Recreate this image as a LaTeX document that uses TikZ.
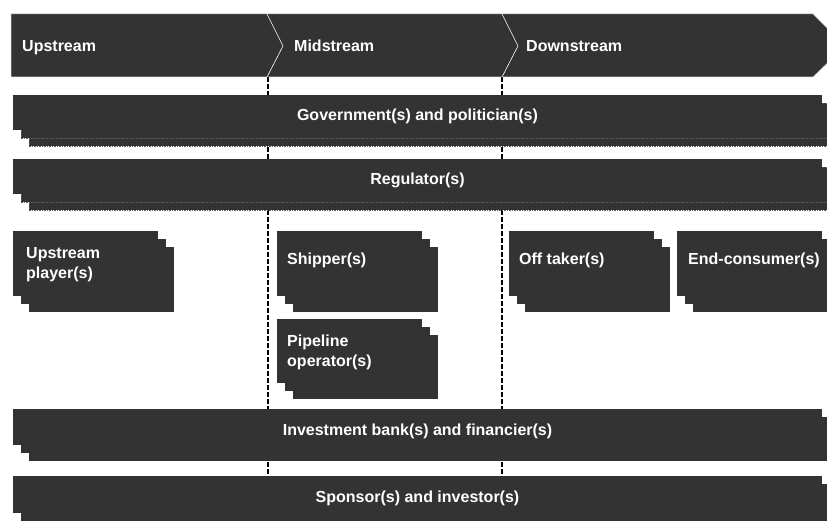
\documentclass[tikz,border=0pt]{standalone}
\usepackage{fontspec}
\setmainfont{Liberation Sans}
\definecolor{panelgrey}{HTML}{333333}
\definecolor{seamgrey}{HTML}{5E5E5E}
\definecolor{rimgrey}{HTML}{C8C8C8}

% A panel with two sheets stacked behind it, each shifted 8 units right and down.
% #1 name, #2 x, #3 y, #4 width, #5 height, #6 style of the rear sheets
\newcommand\stackpanel[6]{%
  \path[panel,#6] ({#2+16},{#3+16}) rectangle ++(#4,#5);
  \path[panel,#6] ({#2+8},{#3+8}) rectangle ++(#4,#5);
  \node[panel, anchor=north west, minimum width=#4, minimum height=#5,
        inner sep=0pt, outer sep=0pt] (#1) at (#2,#3) {};
}

\begin{document}
\begin{tikzpicture}[x=1pt, y=-1pt,
    panel/.style={fill=panelgrey},
    seam/.style={draw=seamgrey, line width=0.3pt, dash pattern=on 1.5pt off 1pt},
    plain/.style={},
    lbl/.style={text=white, font=\fontsize{16}{20}\selectfont\bfseries, inner sep=0pt},
    barlabel/.style={lbl, anchor=center, yshift=-4pt},
    boxlabel/.style={lbl, anchor=west, align=left, yshift=3pt},
    twolinelabel/.style={lbl, anchor=west, align=left, yshift=-1pt},
    phaselabel/.style={lbl, anchor=base west},
    divider/.style={line width=1.5pt, dash pattern=on 5pt off 2pt}]

  \useasboundingbox (0,0) rectangle (827,521);
  \clip (0,0) rectangle (827,521);

  % stage dividers
  \coordinate (div1top) at (268,77);
  \coordinate (div1bot) at (268,476);
  \coordinate (div2top) at (502,77);
  \coordinate (div2bot) at (502,476);
  \draw[divider] (div1top) -- (div1bot);
  \draw[divider] (div2top) -- (div2bot);

  % value-chain arrow
  \filldraw[fill=panelgrey, draw=rimgrey, line width=0.5pt]
    (11,14) -- (813,14) -- (845,46) -- (813,77) -- (11,77) -- cycle;
  \draw[white, line width=0.6pt] (267,14) -- (283,46) -- (267,77);
  \draw[white, line width=0.6pt] (502,14) -- (518,46) -- (502,77);
  \node[phaselabel] (up)   at (22,51.5)  {Upstream};
  \node[phaselabel] (mid)  at (294,51.5) {Midstream};
  \node[phaselabel] (down) at (526,51.5) {Downstream};

  % full-width stakeholder bars
  \stackpanel{gov}{13}{95}{809}{35}{seam}
  \node[barlabel] (govtext) at (gov.center) {Government(s) and politician(s)};
  \stackpanel{reg}{13}{159}{809}{35}{seam}
  \node[barlabel] (regtext) at (reg.center) {Regulator(s)};

  % stage players
  \stackpanel{upl}{13}{231}{145}{65}{plain}
  \node[twolinelabel, xshift=13pt] (upltext) at (upl.west) {Upstream\\player(s)};
  \stackpanel{ship}{277}{231}{145}{65}{plain}
  \node[boxlabel, xshift=10pt] (shiptext) at (ship.west) {Shipper(s)};
  \stackpanel{pipe}{277}{319}{145}{64}{plain}
  \node[twolinelabel, xshift=10pt] (pipetext) at (pipe.west) {Pipeline\\operator(s)};
  \stackpanel{off}{509}{231}{145}{65}{plain}
  \node[boxlabel, xshift=10pt] (offtext) at (off.west) {Off taker(s)};
  \stackpanel{endc}{677}{231}{145}{65}{plain}
  \node[boxlabel, xshift=11pt] (endctext) at (endc.west) {End-consumer(s)};

  % financing bars
  \stackpanel{inv}{13}{409}{809}{36}{plain}
  \node[barlabel] (invtext) at (inv.center) {Investment bank(s) and financier(s)};
  \stackpanel{spo}{13}{476}{809}{37}{plain}
  \node[barlabel] (spotext) at (spo.center) {Sponsor(s) and investor(s)};
\end{tikzpicture}
\end{document}
